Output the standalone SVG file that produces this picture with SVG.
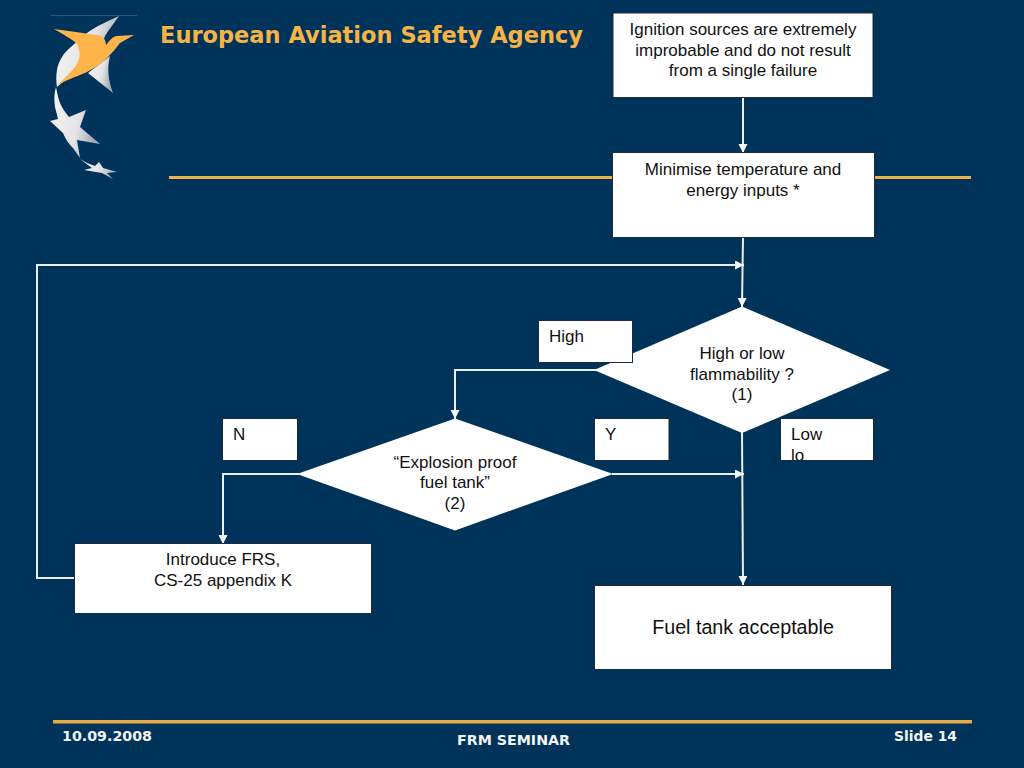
<svg xmlns="http://www.w3.org/2000/svg" width="1024" height="768" viewBox="0 0 1024 768">
<style>
.t{font-family:"Liberation Sans",Arial,sans-serif;font-size:17px;fill:#111;text-anchor:middle}
.l{text-anchor:start}
.box{fill:#fff;stroke:#1c2c3c;stroke-width:1}
.c{fill:none;stroke:#e8f0f4;stroke-width:2}
.f{font-family:"DejaVu Sans",Verdana,sans-serif;font-weight:700;font-size:14.500px;fill:#f2f4f6}
</style>
<defs>
<marker id="a" markerUnits="userSpaceOnUse" markerWidth="10" markerHeight="10" refX="9" refY="4.500" orient="auto"><path d="M0 0L9 4.500L0 9z" fill="#f2f6f8"/></marker>
<linearGradient id="s" x1="0" y1="0" x2="1" y2="0.300"><stop offset="0" stop-color="#f6f6f6"/><stop offset=".65" stop-color="#e4e4e6"/><stop offset="1" stop-color="#a6acb4"/></linearGradient>
<clipPath id="lo"><rect x="781" y="419" width="92" height="41"/></clipPath>
</defs>
<rect width="1024" height="768" fill="#00335a"/>
<g id="logo">
<rect x="50" y="15" width="87" height="1" fill="#2a5578"/>
<path d="M119 16C106 22 95 27 87 33L72 46C64 52 58 62 57 70C56 76 56 82 57 87L100 50L105 36C110 28 115 22 119 16z" fill="url(#s)"/>
<path d="M88 73L113 93C108 80 107 68 110 56z" fill="url(#s)"/>
<path d="M54 29L83 33C90 35 97 34 102 36C105 39 106 42 106 45C110 40 113 36 117 36L134 35L120 43C116 48 112 53 108 57C102 63 95 68 87 72C76 77 65 80 57 86C62 80 72 72 77 64C80 58 81 52 77 44C71 38 62 34 54 29z" fill="#fdb44a"/>
<path d="M56 87C54 94 54 100 55 107L58 119L50 121L63 133C66 140 69 144 73 148L80 158L77 140L100 144L80 127L86 110L69 117C65 112 62 108 60 103C58 98 57 92 56 87z" fill="url(#s)"/>
<path d="M80 159L92 168L84 170L102 173L113 179L107 173L117 172L103 168L99 162L95 166L87 163z" fill="url(#s)"/>
</g>
<text x="160" y="43" font-family="'DejaVu Sans',Verdana,sans-serif" font-weight="700" font-size="23" fill="#f7b343" textLength="423" lengthAdjust="spacingAndGlyphs">European Aviation Safety Agency</text>
<rect x="169" y="176" width="802" height="3" fill="#eeb04a"/>
<rect x="53" y="720" width="919" height="3.500" fill="#e8ab48"/>
<text class="f" x="62" y="741" textLength="90" lengthAdjust="spacingAndGlyphs">10.09.2008</text>
<text class="f" x="457" y="745" textLength="113" lengthAdjust="spacingAndGlyphs">FRM SEMINAR</text>
<text class="f" x="894" y="741" textLength="63" lengthAdjust="spacingAndGlyphs">Slide 14</text>
<g id="connectors">
<path class="c" marker-end="url(#a)" d="M743 97V153"/>
<path class="c" marker-end="url(#a)" d="M743 237L742 307"/>
<path class="c" marker-end="url(#a)" d="M74 578H37V265H744"/>
<path class="c" marker-end="url(#a)" d="M596 370H455V419"/>
<path class="c" marker-end="url(#a)" d="M742 431L743 585"/>
<path class="c" marker-end="url(#a)" d="M612 474H744"/>
<path class="c" marker-end="url(#a)" d="M299 474H223V544"/>
</g>
<g id="n1"><rect class="box" x="613" y="13" width="260" height="84.500"/><text class="t" x="743" y="35">Ignition sources are extremely</text><text class="t" x="743" y="56">improbable and do not result</text><text class="t" x="743" y="76">from a single failure</text></g>
<g id="n2"><rect class="box" x="612.500" y="152.500" width="262" height="85"/><text class="t" x="743" y="175">Minimise temperature and</text><text class="t" x="743" y="196">energy inputs *</text></g>
<g id="n3"><path d="M742 306.500L890 370L742 433L594 370z" fill="#fff"/><text class="t" x="742" y="359">High or low</text><text class="t" x="742" y="380">flammability ?</text><text class="t" x="742" y="400">(1)</text></g>
<g id="n4"><rect class="box" x="538.500" y="320.500" width="94" height="42"/><text class="t l" x="549" y="342">High</text></g>
<g id="n5"><path d="M455 418.500L613 474L455 530.500L297 474z" fill="#fff"/><text class="t" x="455" y="468">“Explosion proof</text><text class="t" x="455" y="488">fuel tank”</text><text class="t" x="455" y="509">(2)</text></g>
<g id="n6"><rect class="box" x="222.500" y="418.500" width="75" height="42"/><text class="t l" x="233" y="440">N</text></g>
<g id="n7"><rect class="box" x="594.500" y="418.500" width="74.500" height="42"/><text class="t l" x="605" y="440">Y</text></g>
<g id="n8"><rect class="box" x="780.500" y="418.500" width="93" height="42"/><text class="t l" x="791" y="440">Low</text><text class="t l" x="791" y="461" clip-path="url(#lo)">lo</text></g>
<g id="n9"><rect class="box" x="74.500" y="543.500" width="297" height="70"/><text class="t" x="223" y="565">Introduce FRS,</text><text class="t" x="223" y="586">CS-25 appendix K</text></g>
<g id="n10"><rect class="box" x="594.500" y="585.500" width="297" height="84"/><text class="t" x="743" y="634" style="font-size:19.700px">Fuel tank acceptable</text></g>
</svg>
